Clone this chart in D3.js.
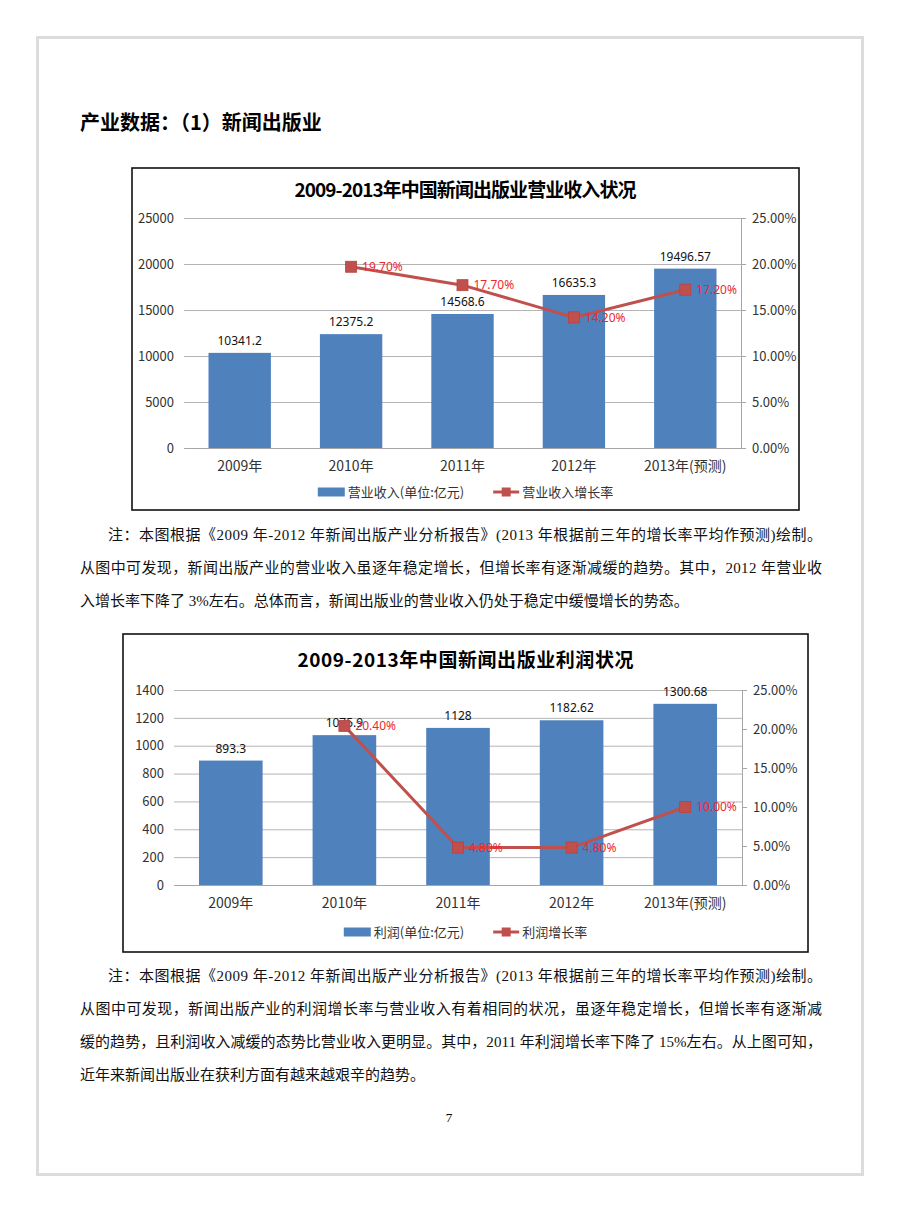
<!DOCTYPE html>
<html lang="zh-CN">
<head>
<meta charset="UTF-8">
<script src="https://cdn.jsdelivr.net/npm/d3@7"></script>
<title>产业数据：新闻出版业</title>
<style>
  body { margin: 0; background: #fff; }
  svg { display: block; }
</style>
</head>
<body>
<div id="page"></div>
<script>
    // data
    const years = ["2009年", "2010年", "2011年", "2012年", "2013年(预测)"];
    const revenue = [10341.2, 12375.2, 14568.6, 16635.3, 19496.57];
    const revenueGrowth = [null, 0.197, 0.177, 0.142, 0.172];
    const profit = [893.3, 1075.9, 1128, 1182.62, 1300.68];
    const profitGrowth = [null, 0.204, 0.048, 0.048, 0.10];

    const revenueTicks = [0, 5000, 10000, 15000, 20000, 25000];
    const profitTicks = [0, 200, 400, 600, 800, 1000, 1200, 1400];
    const rateTicks = [0, 0.05, 0.10, 0.15, 0.20, 0.25];

    // text of the page
    const heading = "产业数据：（1）新闻出版业";
    const note1 = [
        "注：本图根据《2009 年-2012 年新闻出版产业分析报告》(2013 年根据前三年的增长率平均作预测)绘制。",
        "从图中可发现，新闻出版产业的营业收入虽逐年稳定增长，但增长率有逐渐减缓的趋势。其中，2012 年营业收",
        "入增长率下降了 3%左右。总体而言，新闻出版业的营业收入仍处于稳定中缓慢增长的势态。"
    ];
    const note2 = [
        "注：本图根据《2009 年-2012 年新闻出版产业分析报告》(2013 年根据前三年的增长率平均作预测)绘制。",
        "从图中可发现，新闻出版产业的利润增长率与营业收入有着相同的状况，虽逐年稳定增长，但增长率有逐渐减",
        "缓的趋势，且利润收入减缓的态势比营业收入更明显。其中，2011 年利润增长率下降了 15%左右。从上图可知，",
        "近年来新闻出版业在获利方面有越来越艰辛的趋势。"
    ];

    const BAR = "#4F81BD", LINE = "#C0504D", LABEL_RED = "#F0262E", GRID = "#b4b4b4";
    const CJK = "'Noto Sans CJK SC', 'Noto Sans', sans-serif";
    const BODY = "'Liberation Serif', 'Noto Sans CJK SC', serif";

    const svg = d3.select("#page")
        .append("svg")
        .attr("width", 900)
        .attr("height", 1212);

    svg.append("rect").attr("width", 900).attr("height", 1212).attr("fill", "#fff");

    // page frame
    svg.append("rect")
        .attr("x", 37.5).attr("y", 37.5)
        .attr("width", 825).attr("height", 1137)
        .attr("fill", "none")
        .attr("stroke", "#dcdcdc")
        .attr("stroke-width", 3);

    svg.append("text")
        .attr("x", 80).attr("y", 130)
        .style("font-family", CJK)
        .style("font-weight", 700)
        .style("font-size", "20px")
        .text(heading);

    function drawChart(opt) {
        const g = svg.append("g");
        const p = opt.plot;

        // chart border
        g.append("rect")
            .attr("x", opt.box[0]).attr("y", opt.box[1])
            .attr("width", opt.box[2] - opt.box[0])
            .attr("height", opt.box[3] - opt.box[1])
            .attr("fill", "#fff")
            .attr("stroke", "#111")
            .attr("stroke-width", 1.6);

        g.append("text")
            .attr("x", (opt.box[0] + opt.box[2]) / 2)
            .attr("y", opt.titleY)
            .attr("text-anchor", "middle")
            .attr("textLength", opt.titleWidth)
            .attr("lengthAdjust", "spacing")
            .style("font-family", CJK)
            .style("font-weight", 700)
            .style("font-size", "19px")
            .text(opt.title);

        const x = d3.scaleBand()
            .domain(years)
            .range([p.left, p.right])
            .paddingInner(0.44)
            .paddingOuter(0.22);
        const y = d3.scaleLinear().domain([0, d3.max(opt.ticks)]).range([p.bottom, p.top]);
        const yr = d3.scaleLinear().domain([0, d3.max(rateTicks)]).range([p.bottom, p.top]);
        const cx = d => x(d) + x.bandwidth() / 2;

        // left axis with gridlines
        g.append("g")
            .attr("transform", `translate(${p.left},0)`)
            .call(d3.axisLeft(y).tickValues(opt.ticks).tickSize(-(p.right - p.left)).tickPadding(10).tickFormat(d3.format("d")))
            .call(a => a.select(".domain").remove())
            .call(a => a.selectAll("line").attr("stroke", GRID))
            .call(a => a.selectAll("text").attr("fill", "#333")
                .style("font-family", CJK).style("font-size", "13px"));

        // right axis
        g.append("g")
            .attr("transform", `translate(${p.right},0)`)
            .call(d3.axisRight(yr).tickValues(rateTicks).tickSize(5).tickSizeOuter(0).tickPadding(6).tickFormat(d3.format(".2%")))
            .call(a => a.selectAll("line, path").attr("stroke", "#a6a6a6"))
            .call(a => a.selectAll("text").attr("fill", "#333")
                .style("font-family", CJK).style("font-size", "13px"));

        // bars
        g.selectAll(".bar")
            .data(opt.bars)
            .join("rect")
            .attr("class", "bar")
            .attr("x", (d, i) => x(years[i]))
            .attr("y", d => y(d))
            .attr("width", x.bandwidth())
            .attr("height", d => p.bottom - y(d))
            .attr("fill", BAR);

        // category axis
        g.append("g")
            .attr("transform", `translate(0,${p.bottom})`)
            .call(d3.axisBottom(x).tickSize(0).tickSizeOuter(0))
            .call(a => a.select(".domain").attr("stroke", "#a6a6a6"))
            .call(a => a.selectAll("text").attr("fill", "#333")
                .attr("y", 18).attr("dy", "0.35em")
                .style("font-family", CJK).style("font-size", "14px"));

        g.selectAll(".val")
            .data(opt.bars)
            .join("text")
            .attr("class", "val")
            .attr("x", (d, i) => cx(years[i]))
            .attr("y", d => y(d) - 8)
            .attr("text-anchor", "middle")
            .style("font-family", "'Noto Sans', sans-serif")
            .style("font-size", "12px")
            .attr("fill", "#111")
            .text(d => String(d));

        // growth rate line
        const pts = opt.rates.map((r, i) => ({ r: r, c: years[i] })).filter(d => d.r != null);
        const line = d3.line().x(d => cx(d.c)).y(d => yr(d.r));
        g.append("path")
            .datum(pts)
            .attr("d", line)
            .attr("fill", "none")
            .attr("stroke", LINE)
            .attr("stroke-width", 3);
        g.selectAll(".mk")
            .data(pts)
            .join("rect")
            .attr("class", "mk")
            .attr("x", d => cx(d.c) - 5.5)
            .attr("y", d => yr(d.r) - 5.5)
            .attr("width", 11).attr("height", 11)
            .attr("fill", LINE)
            .attr("stroke", "#b9423f")
            .attr("stroke-width", 0.8);
        g.selectAll(".pct")
            .data(pts)
            .join("text")
            .attr("class", "pct")
            .attr("x", d => cx(d.c) + 11)
            .attr("y", d => yr(d.r))
            .attr("dy", "0.35em")
            .style("font-family", "'Noto Sans', sans-serif")
            .style("font-size", "12px")
            .attr("fill", LABEL_RED)
            .text(d => d3.format(".2%")(d.r));

        // legend
        const lg = g.append("g");
        const s1 = lg.append("rect").attr("x", 0).attr("y", -4.5).attr("width", 27).attr("height", 9).attr("fill", BAR);
        const t1 = lg.append("text").attr("x", 30).attr("dy", "0.35em")
            .style("font-family", CJK).style("font-size", "13px").attr("fill", "#333")
            .text(opt.legend[0]);
        const w1 = t1.node().getComputedTextLength();
        const lx = 30 + w1 + 29;
        lg.append("line").attr("x1", lx).attr("x2", lx + 26)
            .attr("stroke", LINE).attr("stroke-width", 3);
        lg.append("rect").attr("x", lx + 13 - 4.5).attr("y", -4.5).attr("width", 9).attr("height", 9).attr("fill", LINE);
        const t2 = lg.append("text").attr("x", lx + 29).attr("dy", "0.35em")
            .style("font-family", CJK).style("font-size", "13px").attr("fill", "#333")
            .text(opt.legend[1]);
        const total = lx + 29 + t2.node().getComputedTextLength();
        lg.attr("transform", `translate(${(opt.box[0] + opt.box[2]) / 2 - total / 2},${opt.legendY})`);
    }

    drawChart({
        box: [132, 168, 799, 510],
        plot: { left: 184, right: 741, top: 218, bottom: 448 },
        title: "2009-2013年中国新闻出版业营业收入状况",
        titleY: 197, titleWidth: 342,
        bars: revenue, rates: revenueGrowth, ticks: revenueTicks,
        legend: ["营业收入(单位:亿元)", "营业收入增长率"],
        legendY: 492
    });

    drawChart({
        box: [123, 634, 808, 952],
        plot: { left: 174, right: 742, top: 690, bottom: 885 },
        title: "2009-2013年中国新闻出版业利润状况",
        titleY: 667, titleWidth: 336,
        bars: profit, rates: profitGrowth, ticks: profitTicks,
        legend: ["利润(单位:亿元)", "利润增长率"],
        legendY: 932
    });

    // notes under each chart
    function drawNote(lines, y0) {
        lines.forEach(function (s, i) {
            const x0 = i === 0 ? 108 : 80;
            const t = svg.append("text")
                .attr("x", x0)
                .attr("y", y0 + i * 33)
                .style("font-family", BODY)
                .style("font-size", "15px")
                .attr("fill", "#111")
                .text(s);
            if (i < lines.length - 1) {
                t.attr("textLength", 822 - x0).attr("lengthAdjust", "spacing");
            }
        });
    }
    drawNote(note1, 540);
    drawNote(note2, 981);

    svg.append("text")
        .attr("x", 449).attr("y", 1122)
        .attr("text-anchor", "middle")
        .style("font-family", "'Liberation Serif', serif")
        .style("font-size", "13px")
        .text("7");
</script>
</body>
</html>
